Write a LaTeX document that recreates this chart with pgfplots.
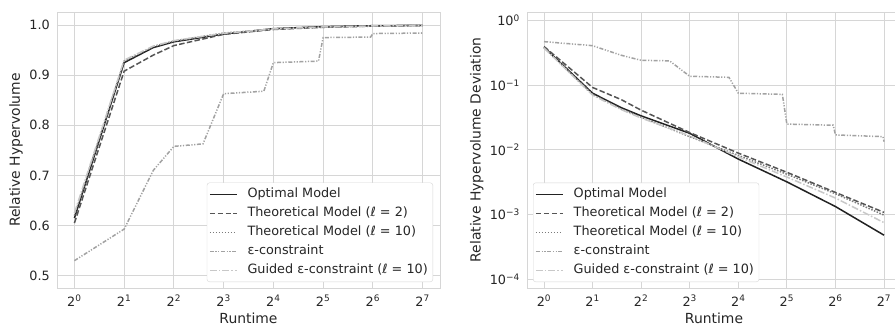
\documentclass[border=0pt]{standalone}
\usepackage{fontspec}
\setmainfont{DejaVu Sans}
\usepackage{pgfplots}
\usepackage{pgfplotstable}
\pgfplotsset{compat=1.18}
\definecolor{txt}{HTML}{262626}
\definecolor{gridc}{HTML}{D6D6D6}
\definecolor{cOpt}{HTML}{222222}
\definecolor{cT2}{HTML}{555555}
\definecolor{cT10}{HTML}{7A7A7A}
\definecolor{cEps}{HTML}{A2A2A2}
\definecolor{cGuid}{HTML}{C8C8C8}

\tikzset{
  sOpt/.style={draw=cOpt, line width=1.5pt},
  sT2/.style={draw=cT2, line width=1.5pt, dash pattern=on 5.5pt off 2.4pt},
  sT10/.style={draw=cT10, line width=1.5pt, dash pattern=on 1.5pt off 1.5pt},
  sEps/.style={draw=cEps, line width=1.5pt, dash pattern=on 4pt off 1.6pt on 1.2pt off 1.6pt on 1.2pt off 1.6pt},
  sGuid/.style={draw=cGuid, line width=1.5pt, dash pattern=on 7pt off 2pt on 1.5pt off 2pt},
}
\pgfplotsset{
  every axis/.append style={
    scale only axis, height=276pt,
    axis line style={gridc, line width=0.9pt},
    grid=major, major grid style={gridc, line width=0.9pt},
    tick style={draw=none},
    tick label style={font=\fontsize{12.8}{15}\selectfont, text=txt},
    xticklabel style={inner sep=0pt, yshift=-7pt, anchor=north},
    yticklabel style={inner sep=0pt, xshift=-7pt, anchor=east},
    legend cell align=left,
    legend style={font=\fontsize{12.8}{15}\selectfont, text=txt, draw=gridc,
      rounded corners=2.5pt, fill=white, inner xsep=2pt, inner ysep=5pt,
      row sep=6pt, nodes={inner xsep=3pt, inner ysep=0pt, text height=10pt, text depth=3pt}},
  },
  every axis x label/.style={at={(axis description cs:0.5,-0.1279)}, anchor=base, font=\fontsize{13.9}{16}\selectfont, text=txt},
  legend image code/.code={\draw[#1] (0pt,0pt) -- (27pt,0pt); \path (34pt,0pt);},
}

\pgfplotstableread{
x opt t2 t10 guid
1 0.615 0.605 0.620 0.625
2 0.925 0.908 0.928 0.930
3 0.955 0.940 0.957 0.958
4 0.9665 0.959 0.968 0.969
8 0.982 0.9815 0.984 0.9835
16 0.9928 0.9911 0.9918 0.9922
32 0.9968 0.9955 0.9958 0.9962
64 0.99867 0.9978 0.9979 0.9982
128 0.99952 0.99892 0.99902 0.99925
}\hvtab

\pgfplotstableread{
x eps
1 0.530
2 0.593
3 0.710
4 0.758
6 0.763
8 0.863
14 0.868
16 0.925
30 0.928
32 0.975
62 0.976
64 0.983
126 0.984
128 0.9866
}\hvepstab

\pgfplotstableread{
x opt t2 t10 guid
1 0.385 0.395 0.380 0.375
2 0.075 0.092 0.072 0.070
3 0.045 0.060 0.043 0.042
4 0.0335 0.041 0.032 0.031
8 0.018 0.0185 0.016 0.0165
16 0.0072 0.0089 0.0082 0.0078
32 0.0032 0.0045 0.0042 0.0038
64 0.00133 0.0022 0.0021 0.0018
128 0.00048 0.00108 0.00098 0.00075
}\devtab

\pgfplotstableread{
x eps
1 0.470
2 0.407
3 0.290
4 0.242
6 0.237
8 0.137
14 0.132
16 0.075
30 0.072
32 0.025
62 0.024
64 0.017
126 0.016
128 0.0134
}\devepstab

\begin{document}
\begin{tikzpicture}
\useasboundingbox (0,0) rectangle (895pt,327pt);
\begin{axis}[at={(57pt,39pt)}, anchor=south west, width=383pt,
  xmode=log, log basis x=2, xmin=0.7846, xmax=163.1,
  xtick={1,2,4,8,16,32,64,128},
  xticklabels={2\textsuperscript{0},2\textsuperscript{1},2\textsuperscript{2},2\textsuperscript{3},2\textsuperscript{4},2\textsuperscript{5},2\textsuperscript{6},2\textsuperscript{7}},
  xlabel={Runtime},
  ymin=0.4755, ymax=1.026,
  ytick={0.5,0.6,0.7,0.8,0.9,1.0},
  yticklabels={0.5,0.6,0.7,0.8,0.9,1.0},
  every axis y label/.style={at={(axis description cs:-0.1071,0.5)}, rotate=90, anchor=center, font=\fontsize{13.9}{16}\selectfont, text=txt},
  ylabel={Relative Hypervolume},
  legend style={at={(1,0)}, anchor=south east, xshift=-7pt, yshift=6pt},
]
\addplot[sOpt] table[x=x, y=opt] {\hvtab};
\addplot[sT2] table[x=x, y=t2] {\hvtab};
\addplot[sT10] table[x=x, y=t10] {\hvtab};
\addplot[sEps] table[x=x, y=eps] {\hvepstab};
\addplot[sGuid] table[x=x, y=guid] {\hvtab};
\legend{Optimal Model, Theoretical Model (ℓ = 2), Theoretical Model (ℓ = 10), ε-constraint, Guided ε-constraint (ℓ = 10)}
\end{axis}
\begin{axis}[at={(527pt,39pt)}, anchor=south west, width=374pt,
  xmode=log, log basis x=2, xmin=0.7846, xmax=163.1,
  xtick={1,2,4,8,16,32,64,128},
  xticklabels={2\textsuperscript{0},2\textsuperscript{1},2\textsuperscript{2},2\textsuperscript{3},2\textsuperscript{4},2\textsuperscript{5},2\textsuperscript{6},2\textsuperscript{7}},
  xlabel={Runtime},
  ymode=log, ymin=7.33e-5, ymax=1.349,
  ytick={1,0.1,0.01,0.001,0.0001},
  yticklabels={10\textsuperscript{0},10\textsuperscript{−1},10\textsuperscript{−2},10\textsuperscript{−3},10\textsuperscript{−4}},
  every axis y label/.style={at={(axis description cs:-0.1345,0.5)}, rotate=90, anchor=center, font=\fontsize{13.9}{16}\selectfont, text=txt},
  ylabel={Relative Hypervolume Deviation},
  legend style={at={(0,0)}, anchor=south west, xshift=6pt, yshift=6pt},
]
\addplot[sOpt] table[x=x, y=opt] {\devtab};
\addplot[sT2] table[x=x, y=t2] {\devtab};
\addplot[sT10] table[x=x, y=t10] {\devtab};
\addplot[sEps] table[x=x, y=eps] {\devepstab};
\addplot[sGuid] table[x=x, y=guid] {\devtab};
\legend{Optimal Model, Theoretical Model (ℓ = 2), Theoretical Model (ℓ = 10), ε-constraint, Guided ε-constraint (ℓ = 10)}
\end{axis}
\end{tikzpicture}
\end{document}
